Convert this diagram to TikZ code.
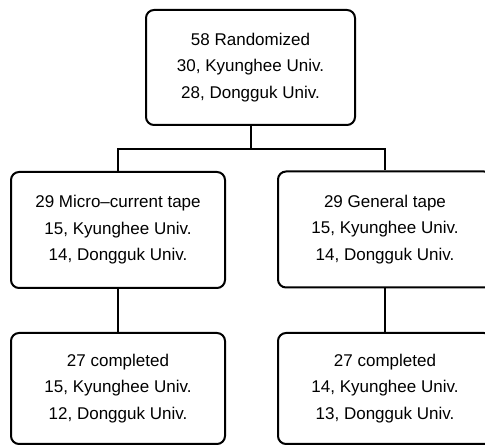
\documentclass[tikz,border=0pt]{standalone}
\usepackage{fontspec}
\setmainfont{Liberation Sans}
\begin{document}
\begin{tikzpicture}[x=1pt,y=1pt,
  box/.style={draw=black, line width=2pt, rounded corners=8pt, fill=white,
    minimum width=214pt, minimum height=116pt, align=center, inner sep=0pt,
    font=\fontsize{17}{26.5}\selectfont},
  link/.style={draw=black, line width=2pt}]
\useasboundingbox (0,0) rectangle (485,-446);
\clip (0,0) rectangle (485,-446);
\node[box, minimum width=209pt, minimum height=115pt] (top) at (250.5,-67.5) {58 Randomized\\30, Kyunghee Univ.\\28, Dongguk Univ.};
\node[box] (left) at (118,-230) {29 Micro{\textendash}current tape\\15, Kyunghee Univ.\\14, Dongguk Univ.};
\node[box] (right) at (385,-229.5) {29 General tape\\15, Kyunghee Univ.\\14, Dongguk Univ.};
\node[box, minimum height=111pt] (bleft) at (118,-388.5) {27 completed\\15, Kyunghee Univ.\\12, Dongguk Univ.};
\node[box, minimum height=111pt] (bright) at (385,-388.5) {27 completed\\14, Kyunghee Univ.\\13, Dongguk Univ.};
\coordinate (split) at (top.south |- 0,-149);
\draw[link] (top.south) -- (split);
\draw[link] (left.north) |- (split) -| (right.north);
\draw[link] (left.south) -- (bleft.north);
\draw[link] (right.south) -- (bright.north);
\end{tikzpicture}
\end{document}
